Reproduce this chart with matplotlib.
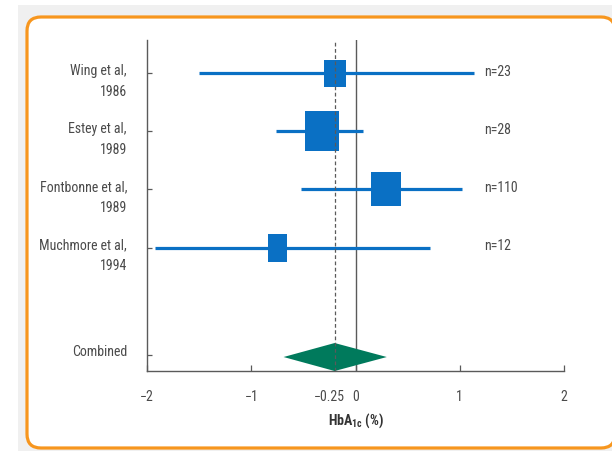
import matplotlib
matplotlib.use("Agg")
import matplotlib.pyplot as plt
from matplotlib.patches import Rectangle, Polygon, FancyBboxPatch
from matplotlib.transforms import IdentityTransform
from matplotlib import font_manager

# ---- data ----
studies = ["Wing et al,\n1986", "Estey et al,\n1989", "Fontbonne et al,\n1989", "Muchmore et al,\n1994"]
n_labels = ["n=23", "n=28", "n=110", "n=12"]
est = [-0.20, -0.32, 0.29, -0.75]
ci_low = [-1.50, -0.76, -0.52, -1.92]
ci_high = [1.14, 0.07, 1.02, 0.71]
comb_label = "Combined"
comb_est = -0.20
comb_low = -0.69
comb_high = 0.30
xticks = [-2, -1, 0, 1, 2]
xticklabels = ["\u22122", "\u22121", "0", "1", "2"]
extra_tick = -0.25
extra_label = "\u22120.25"

# sizes of boxes (pixels) - style
box_w_px = [22, 34, 30, 19]
box_h_px = [27, 40, 34, 28]

# pick a condensed font if available
fonts = font_manager.fontManager.ttflist
cands = []
for f in fonts:
    st = str(f.stretch).lower()
    if "narrow" in f.name.lower() or "condensed" in f.name.lower() or st in ("condensed", "semi-condensed", "extra-condensed", "ultra-condensed") or (isinstance(f.stretch, int) and f.stretch < 500):
        cands.append(f)
FAMILY = "DejaVu Sans"
STRETCH = "normal"
pref = ["Liberation Sans Narrow", "Roboto Condensed", "Open Sans Condensed", "DejaVu Sans", "Noto Sans"]
chosen = None
for p in pref:
    for f in cands:
        if f.name == p:
            chosen = f
            break
    if chosen:
        break
if chosen is None and cands:
    chosen = cands[0]
if chosen is not None:
    FAMILY = chosen.name
    STRETCH = chosen.stretch
plt.rcParams['font.family'] = [FAMILY, 'DejaVu Sans']
plt.rcParams['font.stretch'] = STRETCH
plt.rcParams['mathtext.fontset'] = 'custom'
plt.rcParams['mathtext.rm'] = FAMILY
plt.rcParams['mathtext.bf'] = FAMILY + ':bold'

BLUE = "#0a70c4"
GREEN = "#007a5c"
GRAY = "#5a5a5a"
TXT = "#4a4a4a"
ORANGE = "#f7961e"
FS = 10

W, H = 612, 451
fig = plt.figure(figsize=(W/100, H/100), dpi=100)
fig.patch.set_facecolor("white")

# background panel
fig.add_artist(Rectangle((18, 0), W - 18, H - 5, transform=IdentityTransform(),
                         facecolor="#f0f0f0", edgecolor="none", zorder=-3))
fig.add_artist(FancyBboxPatch((27, 3), 588, 431, boxstyle="round,pad=0,rounding_size=14",
                              transform=IdentityTransform(), facecolor="white",
                              edgecolor=ORANGE, linewidth=2.3, zorder=-2))

ax = fig.add_axes([147/W, 1 - 370.5/H, (564-147)/W, (370.5-40)/H])
ax.set_facecolor("none")

ypx_per = 58.2
xpx_per = 104.2
rows = list(range(len(studies)))
comb_row = 4.845
ax.set_xlim(-2, 2)
ax.set_ylim((370.5 - 73) / ypx_per, (40 - 73) / ypx_per)

for sp in ["top", "right"]:
    ax.spines[sp].set_visible(False)
for sp in ["left", "bottom"]:
    ax.spines[sp].set_color(GRAY)
    ax.spines[sp].set_linewidth(1.0)

# reference lines
ax.axvline(0, color=GRAY, lw=1.0, zorder=1)
ax.axvline(comb_est, color=GRAY, lw=0.9, ls=(0, (3, 2)), zorder=4)

for i in rows:
    ax.plot([ci_low[i], ci_high[i]], [i, i], color=BLUE, lw=2.3, solid_capstyle="butt", zorder=2)
    bw = box_w_px[i] / xpx_per
    bh = box_h_px[i] / ypx_per
    ax.add_patch(Rectangle((est[i] - bw/2, i - bh/2), bw, bh, facecolor=BLUE,
                           edgecolor="none", zorder=3))
    ax.annotate(studies[i], xy=(-2, i), xycoords="data", xytext=(-14.4, -6.0),
                textcoords="offset points", ha="right", va="center",
                multialignment="right", fontsize=FS, color=TXT, linespacing=1.6)
    ax.annotate(n_labels[i], xy=(1.23, i), xycoords="data", xytext=(0, 0.8),
                textcoords="offset points", ha="left", va="center",
                fontsize=FS, color=TXT)

# combined diamond
dc = comb_row + 0.035
dh = 14 / ypx_per
ax.add_patch(Polygon([[comb_low, dc], [comb_est, dc - dh],
                      [comb_high, dc], [comb_est, dc + dh]],
                     closed=True, facecolor=GREEN, edgecolor="none", zorder=3,
                     clip_on=False))
ax.annotate(comb_label, xy=(-2, comb_row), xycoords="data", xytext=(-14.4, 2.2),
            textcoords="offset points", ha="right", va="center",
            fontsize=FS, color=TXT)

ax.set_yticks(rows + [comb_row])
ax.set_yticklabels([])
ax.tick_params(axis="y", direction="in", length=3.6, width=0.9, color=GRAY)

ax.set_xticks(xticks)
ax.set_xticklabels(xticklabels)
ax.set_xticks([extra_tick], minor=True)
ax.set_xticklabels([extra_label], minor=True)
ax.tick_params(axis="x", which="major", direction="in", length=4.3, width=0.9,
               color=GRAY, pad=14, labelsize=FS, labelcolor=TXT)
ax.tick_params(axis="x", which="minor", direction="in", length=0, pad=14,
               labelsize=FS, labelcolor=TXT)

fig.text(356/W, 1 - 421/H, r"HbA$_{\mathbf{1c}}$ (%)", ha="center", va="center",
         fontsize=FS, fontweight="bold", color="#333333")

fig.savefig("out.png", dpi=100)
